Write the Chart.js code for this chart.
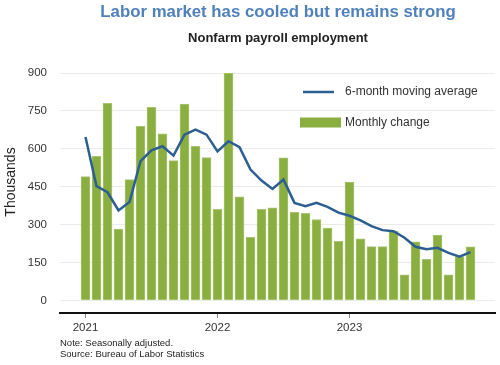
<!DOCTYPE html>
<html>
<head>
<meta charset="utf-8">
<script src="https://cdn.jsdelivr.net/npm/chart.js@4/dist/chart.umd.min.js"></script>
<style>
  html, body { margin: 0; padding: 0; background: #ffffff; }
  #wrap { width: 500px; height: 365px; }
</style>
</head>
<body>
<div id="wrap"><canvas id="c" width="500" height="365"></canvas></div>
<script>
// ---- Data ----
const months = [
  'Jan 2021','Feb 2021','Mar 2021','Apr 2021','May 2021','Jun 2021','Jul 2021','Aug 2021','Sep 2021','Oct 2021','Nov 2021','Dec 2021',
  'Jan 2022','Feb 2022','Mar 2022','Apr 2022','May 2022','Jun 2022','Jul 2022','Aug 2022','Sep 2022','Oct 2022','Nov 2022','Dec 2022',
  'Jan 2023','Feb 2023','Mar 2023','Apr 2023','May 2023','Jun 2023','Jul 2023','Aug 2023','Sep 2023','Oct 2023','Nov 2023','Dec 2023'
];
const monthlyChange = [
  490, 570, 780, 282, 478, 689, 764, 659, 553, 777, 610, 565,
  360, 900, 410, 250, 360, 366, 564, 348, 345, 320, 286, 234,
  468, 244, 213, 213, 274, 101, 232, 162, 258, 101, 173, 212
];
const movingAverage = [
  647, 452, 428, 356, 389, 551, 594, 610, 573, 656, 676, 656,
  590, 630, 606, 518, 474, 441, 478, 386, 373, 386, 370, 347,
  335, 317, 294, 278, 274, 248, 212, 202, 208, 188, 173, 191
];
const yearTicks = ['2021', '2022', '2023'];
const yTicks = [0, 150, 300, 450, 600, 750, 900];

const titleText = 'Labor market has cooled but remains strong';
const subtitleText = 'Nonfarm payroll employment';
const yAxisTitle = 'Thousands';
const lineLabel = '6-month moving average';
const barLabel = 'Monthly change';
const noteLines = ['Note: Seasonally adjusted.', 'Source: Bureau of Labor Statistics'];

const FONT = '"Liberation Sans", Arial, Helvetica, sans-serif';
const GREEN = '#8bae41';
const BLUE = '#2c5e91';

const overlay = {
  id: 'overlay',
  afterDraw(chart) {
    const ctx = chart.ctx;
    ctx.save();
    // Title
    ctx.textAlign = 'center';
    ctx.textBaseline = 'middle';
    ctx.fillStyle = '#4f81bd';
    ctx.font = 'bold 16.8px ' + FONT;
    ctx.fillText(titleText, 278, 12);
    ctx.fillStyle = '#222222';
    ctx.font = 'bold 13px ' + FONT;
    ctx.fillText(subtitleText, 278, 38.5);
    // Y axis title
    ctx.save();
    ctx.translate(11, 182);
    ctx.rotate(-Math.PI / 2);
    ctx.font = '14px ' + FONT;
    ctx.fillStyle = '#222222';
    ctx.fillText(yAxisTitle, 0, 0);
    ctx.restore();
    // Legend
    ctx.strokeStyle = BLUE;
    ctx.lineWidth = 2.5;
    ctx.beginPath();
    ctx.moveTo(303, 92);
    ctx.lineTo(334, 92);
    ctx.stroke();
    ctx.fillStyle = GREEN;
    ctx.fillRect(300, 117.5, 41, 10);
    ctx.textAlign = 'left';
    ctx.fillStyle = '#333333';
    ctx.font = '12px ' + FONT;
    ctx.fillText(lineLabel, 345, 92);
    ctx.fillText(barLabel, 345, 123);
    // Notes
    ctx.font = '9.5px ' + FONT;
    ctx.fillStyle = '#222222';
    ctx.fillText(noteLines[0], 60, 343.5);
    ctx.fillText(noteLines[1], 60, 354.5);
    ctx.restore();
  }
};

new Chart(document.getElementById('c'), {
  type: 'bar',
  data: {
    datasets: [
      {
        type: 'line',
        label: lineLabel,
        data: movingAverage.map((v, i) => ({ x: i, y: v })),
        borderColor: BLUE,
        borderWidth: 2.5,
        pointRadius: 0,
        tension: 0,
        fill: false,
        order: 0
      },
      {
        type: 'bar',
        label: barLabel,
        data: monthlyChange.map((v, i) => ({ x: i, y: v })),
        backgroundColor: GREEN,
        borderColor: '#a9c573',
        borderWidth: 1,
        barThickness: 9,
        order: 1
      }
    ]
  },
  options: {
    responsive: false,
    animation: false,
    layout: { padding: { top: 73, right: 5, bottom: 0, left: 0 } },
    plugins: {
      legend: { display: false },
      tooltip: { enabled: false },
      title: { display: false }
    },
    scales: {
      x: {
        type: 'linear',
        offset: false,
        bounds: 'data',
        min: -2.318,
        max: 37.227,
        afterBuildTicks(scale) {
          scale.ticks = yearTicks.map((t, i) => ({ value: i * 12 }));
        },
        afterFit(scale) { scale.height = 52; },
        grid: {
          offset: false,
          drawOnChartArea: false,
          drawTicks: true,
          tickLength: 5,
          color: '#888888'
        },
        border: { display: true, color: '#111111', width: 2 },
        ticks: {
          padding: 3,
          color: '#333333',
          font: { family: FONT, size: 11.5 },
          maxRotation: 0,
          autoSkip: false,
          callback: (v) => yearTicks[Math.round(v / 12)]
        }
      },
      y: {
        min: -50,
        max: 900,
        afterBuildTicks(scale) {
          scale.ticks = yTicks.map(v => ({ value: v }));
        },
        afterFit(scale) { scale.width = 60; },
        grid: { color: '#ebebeb', lineWidth: 1, drawTicks: false },
        border: { display: false },
        ticks: {
          padding: 13,
          color: '#333333',
          font: { family: FONT, size: 11.5 }
        }
      }
    }
  },
  plugins: [overlay]
});
</script>
</body>
</html>
